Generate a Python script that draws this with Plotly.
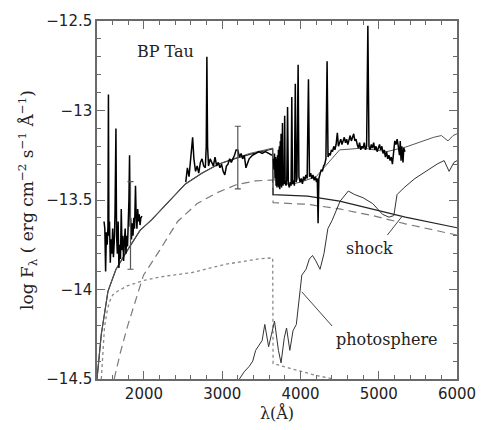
import plotly.graph_objects as go

# ---------------- data ----------------
# observed spectrum: UV (IUE short), near-UV, optical
uv_wl = [1490, 1500, 1510, 1520, 1530, 1540, 1546, 1552, 1560, 1570, 1580, 1590, 1600, 1610, 1620,
         1630, 1642, 1650, 1660, 1670, 1680, 1690, 1700, 1710, 1720, 1730, 1740, 1750, 1760, 1770,
         1780, 1790, 1800, 1808, 1816, 1824, 1830, 1840, 1850, 1860, 1870, 1880, 1892, 1900, 1910,
         1920, 1930, 1940, 1950, 1960, 1975]
uv_fx = [-13.62, -13.66, -13.90, -13.68, -13.75, -13.65, -12.91, -13.70, -13.62, -13.85, -13.72, -13.80,
         -13.66, -13.82, -13.74, -13.58, -13.10, -13.70, -13.80, -13.62, -13.88, -13.75, -13.83, -13.55,
         -13.78, -13.70, -13.84, -13.73, -13.66, -13.80, -13.70, -13.76, -13.62, -13.50, -13.25, -13.65,
         -13.60, -13.72, -13.63, -13.70, -13.60, -13.66, -13.42, -13.58, -13.66, -13.55, -13.62, -13.58,
         -13.64, -13.60, -13.59]

nuv_wl = [2534, 2555, 2576, 2605, 2622, 2638, 2659, 2680, 2700, 2721, 2742, 2763, 2784, 2796, 2804,
          2813, 2825, 2846, 2867, 2887, 2908, 2929, 2950, 2971, 2991, 3012, 3033, 3054, 3074, 3095,
          3116, 3137, 3157, 3178, 3199, 3220, 3241, 3261, 3282, 3303, 3344, 3386, 3427, 3469, 3510,
          3552, 3594, 3635]
nuv_fx = [-13.40, -13.32, -13.37, -13.23, -13.15, -13.27, -13.34, -13.31, -13.35, -13.29, -13.27, -13.31,
          -13.32, -13.20, -12.70, -13.20, -13.31, -13.27, -13.29, -13.31, -13.26, -13.31, -13.29, -13.32,
          -13.30, -13.34, -13.36, -13.31, -13.30, -13.27, -13.29, -13.27, -13.25, -13.22, -13.22, -13.26,
          -13.24, -13.27, -13.25, -13.32, -13.27, -13.25, -13.24, -13.23, -13.24, -13.23, -13.24, -13.25]

opt_wl = [3655, 3662, 3668, 3675, 3682, 3688, 3695, 3700, 3706, 3712, 3718, 3724, 3730, 3736, 3742,
          3748, 3752, 3758, 3764, 3770, 3776, 3784, 3792, 3798, 3804, 3815, 3825, 3835, 3845, 3858,
          3870, 3880, 3889, 3898, 3910, 3922, 3934, 3944, 3955, 3970, 3980, 3995, 4010, 4025, 4040,
          4055, 4070, 4085, 4102, 4115, 4130, 4145, 4160, 4175, 4190, 4205, 4215, 4225, 4235, 4250,
          4265, 4280, 4295, 4310, 4325, 4340, 4352, 4365, 4380, 4395, 4410, 4425, 4440, 4455, 4471,
          4485, 4500, 4515, 4530, 4545, 4560, 4575, 4590, 4605, 4620, 4635, 4650, 4665, 4680, 4695,
          4710, 4725, 4740, 4755, 4770, 4785, 4800, 4815, 4830, 4845, 4861, 4875, 4890, 4905, 4920,
          4935, 4950, 4965, 4980, 4995, 5010, 5025, 5040, 5055, 5070, 5085, 5100, 5115, 5130, 5145,
          5160, 5175, 5190, 5205, 5220, 5235, 5250, 5265, 5275, 5285, 5295, 5310, 5320, 5335]
opt_fx = [-13.27, -13.33, -13.24, -13.38, -13.26, -13.42, -13.27, -13.43, -13.25, -13.42, -13.22, -13.43,
          -13.20, -13.44, -13.17, -13.42, -13.13, -13.43, -13.35, -13.07, -13.42, -13.38, -13.41, -13.03,
          -13.40, -13.42, -13.39, -12.98, -13.41, -13.43, -13.40, -13.42, -12.925, -13.41, -13.39, -13.42,
          -12.85, -13.40, -13.38, -12.745, -13.37, -13.40, -13.38, -13.41, -13.37, -13.39, -13.36, -13.38,
          -12.825, -13.37, -13.35, -13.38, -13.36, -13.39, -13.37, -13.40, -13.38, -13.63, -13.38, -13.35,
          -13.33, -13.34, -13.31, -13.30, -13.27, -12.725, -13.26, -13.24, -13.25, -13.22, -13.23, -13.20,
          -13.22, -13.19, -13.125, -13.20, -13.18, -13.16, -13.19, -13.17, -13.15, -13.18, -13.16, -13.19,
          -13.17, -13.14, -13.17, -13.15, -13.13, -13.17, -13.16, -13.19, -13.21, -13.18, -13.22, -13.20,
          -13.21, -13.18, -13.22, -13.20, -12.526, -13.20, -13.22, -13.19, -13.21, -13.18, -13.22, -13.20,
          -13.23, -13.21, -13.19, -13.22, -13.20, -13.24, -13.22, -13.26, -13.23, -13.27, -13.25, -13.28,
          -13.26, -13.30, -13.22, -13.17, -13.19, -13.16, -13.20, -13.25, -13.17, -13.28, -13.20, -13.29,
          -13.21, -13.23]

# total model (shock + photosphere)
tot_wl = [1400, 1455, 1540, 1640, 1790, 1950, 2100, 2330, 2530, 2740, 2950, 3150, 3350, 3550, 3645,
          3650, 3700, 3800, 3900, 4000, 4200, 4400, 4500, 4800, 5100, 5340, 5500, 5700, 5800, 5885,
          5950, 6000]
tot_fx = [-14.50, -14.25, -14.01, -13.89, -13.78, -13.67, -13.61, -13.50, -13.41, -13.35, -13.30, -13.27,
          -13.24, -13.22, -13.21, -13.38, -13.40, -13.41, -13.41, -13.40, -13.37, -13.27, -13.22, -13.21,
          -13.23, -13.205, -13.18, -13.15, -13.14, -13.17, -13.14, -13.13]

# shock (solid)
shk_wl = [1400, 1455, 1540, 1640, 1790, 1950, 2100, 2330, 2530, 2740, 2950, 3150, 3350, 3550, 3645,
          3650, 4090, 4500, 4920, 5340, 6000]
shk_fx = [-14.50, -14.25, -14.01, -13.89, -13.78, -13.67, -13.61, -13.50, -13.41, -13.35, -13.30, -13.27,
          -13.245, -13.225, -13.215, -13.47, -13.478, -13.506, -13.55, -13.596, -13.655]

# dashed component
dsh_wl = [1620, 1700, 1787, 1912, 1994, 2202, 2430, 2680, 2929, 3178, 3427, 3645, 3650, 4090, 4500,
          4920, 5340, 6000]
dsh_fx = [-14.50, -14.35, -14.21, -14.03, -13.92, -13.78, -13.62, -13.52, -13.46, -13.415, -13.393,
          -13.388, -13.515, -13.524, -13.55, -13.587, -13.633, -13.696]

# dotted component
dot_wl = [1455, 1496, 1530, 1558, 1600, 1662, 1786, 1994, 2202, 2617, 3032, 3448, 3645, 3650, 3864,
          4009, 4200, 4424]
dot_fx = [-14.50, -14.21, -14.12, -14.07, -14.03, -14.01, -13.98, -13.95, -13.93, -13.905, -13.86,
          -13.83, -13.823, -14.413, -14.44, -14.459, -14.48, -14.50]

# photosphere
pho_wl = [3220, 3280, 3344, 3390, 3427, 3470, 3510, 3544, 3593, 3630, 3668, 3718, 3752, 3793, 3822,
          3864, 3905, 3947, 3988, 4017, 4071, 4113, 4154, 4196, 4250, 4300, 4350, 4403, 4507, 4611,
          4694, 4798, 4923, 5048, 5131, 5193, 5234, 5318, 5462, 5629, 5754, 5836, 5899, 5961, 6000]
pho_fx = [-14.50, -14.46, -14.43, -14.40, -14.34, -14.31, -14.285, -14.195, -14.32, -14.25, -14.177,
          -14.34, -14.41, -14.27, -14.215, -14.34, -14.23, -14.195, -14.01, -13.92, -13.887, -13.83,
          -13.81, -13.84, -13.887, -13.80, -13.66, -13.615, -13.506, -13.45, -13.47, -13.487, -13.52,
          -13.58, -13.596, -13.587, -13.47, -13.433, -13.38, -13.333, -13.297, -13.28, -13.34, -13.29,
          -13.28]

# error bars
err_wl = [1828, 3199]
err_fx = [-13.642, -13.263]
err_sz = [0.245, 0.175]

# labels and pointer lines
lab_txt = ["BP Tau", "shock", "photosphere"]
lab_wl = [2281, 4880, 5110]
lab_fx = [-12.672, -13.77, -14.28]
ptr_shock_wl = [5110, 5300]
ptr_shock_fx = [-13.696, -13.59]
ptr_pho_wl = [4404, 4017]
ptr_pho_fx = [-14.204, -14.013]

x_range = [1400, 6000]
y_range = [-14.5, -12.5]

# ---------------- figure ----------------
fig = go.Figure()

grey = "#6a6a6a"

fig.add_trace(go.Scatter(x=dot_wl, y=dot_fx, mode="lines",
                         line=dict(color="#8a8a8a", width=1.3, dash="dot")))
fig.add_trace(go.Scatter(x=dsh_wl, y=dsh_fx, mode="lines",
                         line=dict(color="#7a7a7a", width=1.2, dash="8px,5px")))
fig.add_trace(go.Scatter(x=shk_wl, y=shk_fx, mode="lines",
                         line=dict(color="#222222", width=1.2)))
fig.add_trace(go.Scatter(x=tot_wl, y=tot_fx, mode="lines",
                         line=dict(color="#555555", width=1.0)))
fig.add_trace(go.Scatter(x=pho_wl, y=pho_fx, mode="lines",
                         line=dict(color="#333333", width=1.0)))
for wl, fx in [(uv_wl, uv_fx), (nuv_wl, nuv_fx), (opt_wl, opt_fx)]:
    fig.add_trace(go.Scatter(x=wl, y=fx, mode="lines",
                             line=dict(color="#000000", width=1.5)))
fig.add_trace(go.Scatter(x=err_wl, y=err_fx, mode="markers",
                         marker=dict(size=1, color="#555555"),
                         error_y=dict(type="data", array=err_sz, visible=True,
                                      color="#555555", thickness=1.2, width=3)))
fig.add_trace(go.Scatter(x=ptr_shock_wl, y=ptr_shock_fx, mode="lines",
                         line=dict(color="#444444", width=1.0)))
fig.add_trace(go.Scatter(x=ptr_pho_wl, y=ptr_pho_fx, mode="lines",
                         line=dict(color="#444444", width=1.0)))

for t, x, y in zip(lab_txt, lab_wl, lab_fx):
    fig.add_annotation(x=x, y=y, text=t, showarrow=False, xanchor="center", yanchor="middle",
                       font=dict(family="DejaVu Serif", size=16, color="#222222"))

axis_common = dict(showgrid=False, zeroline=False, showline=True, linecolor=grey, linewidth=1.5,
                   mirror="allticks", ticks="inside", tickcolor=grey, tickwidth=1.2, ticklen=8,
                   tickfont=dict(family="DejaVu Sans", size=15, color="#222222"))

fig.update_xaxes(range=x_range, dtick=1000, tick0=0,
                 minor=dict(dtick=200, ticks="inside", ticklen=4, tickcolor=grey, tickwidth=1.0),
                 title=dict(text="λ(Å)", font=dict(family="DejaVu Serif", size=16, color="#222222"),
                            standoff=4),
                 **axis_common)
fig.update_yaxes(range=y_range, dtick=0.5, tick0=0, tickformat=".1~f",
                 minor=dict(dtick=0.1, ticks="inside", ticklen=4, tickcolor=grey, tickwidth=1.0),
                 title=dict(text="log F<sub>λ</sub> ( erg cm<sup>−2</sup> s<sup>−1</sup> Å<sup>−1</sup>)",
                            font=dict(family="DejaVu Serif", size=17, color="#222222"),
                            standoff=8),
                 **axis_common)

fig.update_layout(width=488, height=430, showlegend=False,
                  margin=dict(l=97, r=21, t=12, b=51),
                  paper_bgcolor="white", plot_bgcolor="white")

fig.write_html("out.html")
